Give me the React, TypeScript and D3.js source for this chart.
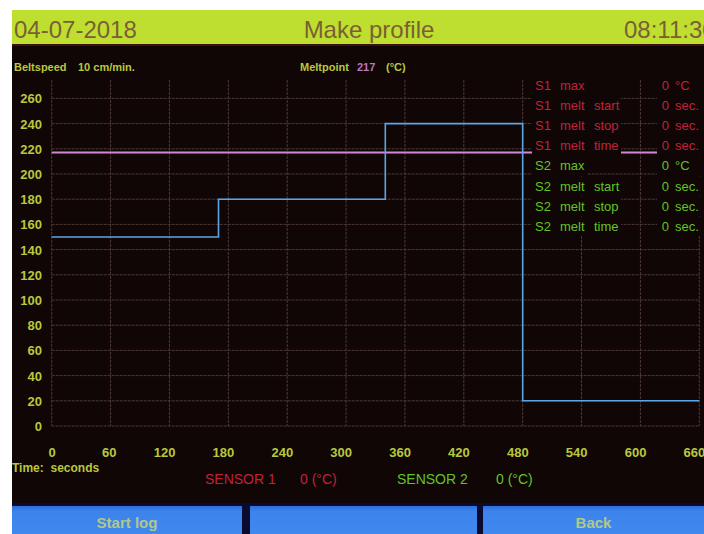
import React from 'react';
import * as d3 from 'd3';

const W = 704;
const H = 534;

// Data
const profileTimes = [0, 170, 340, 480, 660];
const profileTemps = [150, 180, 240, 20, 20];
const meltpointTemp = 217;
const xTicks = [0, 60, 120, 180, 240, 300, 360, 420, 480, 540, 600, 660];
const yTicks = [0, 20, 40, 60, 80, 100, 120, 140, 160, 180, 200, 220, 240, 260];
const s1Rows = [
  ['S1', 'max', '', '0', '°C'],
  ['S1', 'melt', 'start', '0', 'sec.'],
  ['S1', 'melt', 'stop', '0', 'sec.'],
  ['S1', 'melt', 'time', '0', 'sec.'],
];
const s2Rows = [
  ['S2', 'max', '', '0', '°C'],
  ['S2', 'melt', 'start', '0', 'sec.'],
  ['S2', 'melt', 'stop', '0', 'sec.'],
  ['S2', 'melt', 'time', '0', 'sec.'],
];
const buttons = ['Start log', '', 'Back'];

const FONT = '"Liberation Sans", Arial, sans-serif';
const BG = '#100606';
const LABEL = '#b9c83c';
const RED = '#c0223a';
const GREEN = '#62c424';

export default function App() {
  const x = d3.scaleLinear().domain([0, 660]).range([51.7, 699.3]);
  const y = d3.scaleLinear().domain([0, 260]).range([426, 98.4]);

  const pts: [number, number][] = profileTimes.map((t, i) => [t, profileTemps[i]]);
  const profilePath = d3
    .line<[number, number]>()
    .x((d) => x(d[0]))
    .y((d) => y(d[1]))
    .curve(d3.curveStepAfter)(pts) as string;

  const legendRows = [...s1Rows.map((r) => ({ r, c: RED })), ...s2Rows.map((r) => ({ r, c: GREEN }))];

  const btnX = [12, 250, 483];
  const btnW = [230, 227, 221];

  return (
    <svg
      width={W}
      height={H}
      style={{ position: 'absolute', left: 0, top: 0, background: '#ffffff' }}
      fontFamily={FONT}
    >
      <defs>
        <linearGradient id="btn" x1="0" y1="0" x2="0" y2="1">
          <stop offset="0%" stopColor="#2f6ed8" />
          <stop offset="20%" stopColor="#3c84ec" />
          <stop offset="100%" stopColor="#4088ee" />
        </linearGradient>
      </defs>
      {/* screen panel */}
      <rect x={12} y={10} width={W - 12} height={H - 10} fill={BG} />

      {/* header */}
      <rect x={12} y={10} width={W - 12} height={35} fill="#bfdf30" />
      <rect x={12} y={44} width={W - 12} height={2} fill="#3a1208" />
      <text x={14} y={38} fontSize={24} fill="#7a5f34">04-07-2018</text>
      <text x={369} y={38} fontSize={24} fill="#7a5f34" textAnchor="middle">Make  profile</text>
      <text x={624} y={38} fontSize={24} fill="#7a5f34">08:11:30</text>

      {/* info line */}
      <text x={14} y={71} fontSize={11} fontWeight="bold" fill={LABEL}>Beltspeed</text>
      <text x={78} y={71} fontSize={11} fontWeight="bold" fill={LABEL}>10 cm/min.</text>
      <text x={300} y={71} fontSize={11} fontWeight="bold" fill={LABEL}>Meltpoint</text>
      <text x={357} y={71} fontSize={11} fontWeight="bold" fill="#b878c0">217</text>
      <text x={386} y={71} fontSize={11} fontWeight="bold" fill={LABEL}>(°C)</text>

      {/* grid */}
      <g stroke="#5a4646" strokeWidth={1} strokeDasharray="3,1" opacity={0.8}>
        {yTicks.map((t) => (
          <line key={'gy' + t} x1={x(0)} x2={x(660)} y1={y(t)} y2={y(t)} />
        ))}
        {xTicks.map((t) => (
          <line key={'gx' + t} x1={x(t)} x2={x(t)} y1={80} y2={y(0)} />
        ))}
      </g>

      {/* y tick labels */}
      {yTicks.map((t) => (
        <text
          key={'ly' + t}
          x={42}
          y={y(t) + 5}
          fontSize={13}
          fontWeight="bold"
          fill={LABEL}
          textAnchor="end"
        >
          {t}
        </text>
      ))}
      {/* x tick labels */}
      {xTicks.map((t) => (
        <text
          key={'lx' + t}
          x={t === 0 ? x(t) + 4 : x(t) + 6}
          y={456.5}
          fontSize={13}
          fontWeight="bold"
          fill={LABEL}
          textAnchor="end"
        >
          {t}
        </text>
      ))}
      <text x={12} y={472} fontSize={12} fontWeight="bold" fill={LABEL} xmlSpace="preserve">
        Time:  seconds
      </text>

      {/* meltpoint line */}
      <line
        x1={x(0)}
        x2={x(660)}
        y1={y(meltpointTemp)}
        y2={y(meltpointTemp)}
        stroke="#d08ad4"
        strokeWidth={2}
      />
      {/* profile */}
      <path d={profilePath} fill="none" stroke="#5aa6e6" strokeWidth={1.6} />

      {/* legend */}
      {legendRows.map(({ r, c }, i) => {
        const cy = 85 + i * 20.1;
        return (
          <g key={'lg' + i}>
            <rect x={532} y={cy - 9} width={r[2] ? 89 : 55} height={19} fill={BG} />
            <rect x={657} y={cy - 9} width={47} height={19} fill={BG} />
            <text x={535} y={cy + 5} fontSize={13} fill={c}>{r[0]}</text>
            <text x={560} y={cy + 5} fontSize={13} fill={c}>{r[1]}</text>
            {r[2] && (
              <text x={594} y={cy + 5} fontSize={13} fill={c}>{r[2]}</text>
            )}
            <text x={669} y={cy + 5} fontSize={13} fill={c} textAnchor="end">{r[3]}</text>
            <text x={675} y={cy + 5} fontSize={13} fill={c}>{r[4]}</text>
          </g>
        );
      })}

      {/* sensor readouts */}
      <text x={205} y={484} fontSize={14} fill={RED}>SENSOR  1</text>
      <text x={300} y={484} fontSize={14} fill={RED}>0 (°C)</text>
      <text x={397} y={484} fontSize={14} fill={GREEN}>SENSOR  2</text>
      <text x={496} y={484} fontSize={14} fill={GREEN}>0 (°C)</text>

      {/* buttons */}
      <rect x={12} y={503} width={W - 12} height={H - 503} fill="#0a0a30" />
      {buttons.map((b, i) => (
        <g key={'b' + i}>
          <rect x={btnX[i]} y={506} width={btnW[i]} height={H - 506} fill="url(#btn)" />
          {b && (
            <text
              x={btnX[i] + btnW[i] / 2}
              y={528}
              fontSize={15}
              fontWeight="bold"
              fill="#b2c888"
              textAnchor="middle"
            >
              {b}
            </text>
          )}
        </g>
      ))}
    </svg>
  );
}
